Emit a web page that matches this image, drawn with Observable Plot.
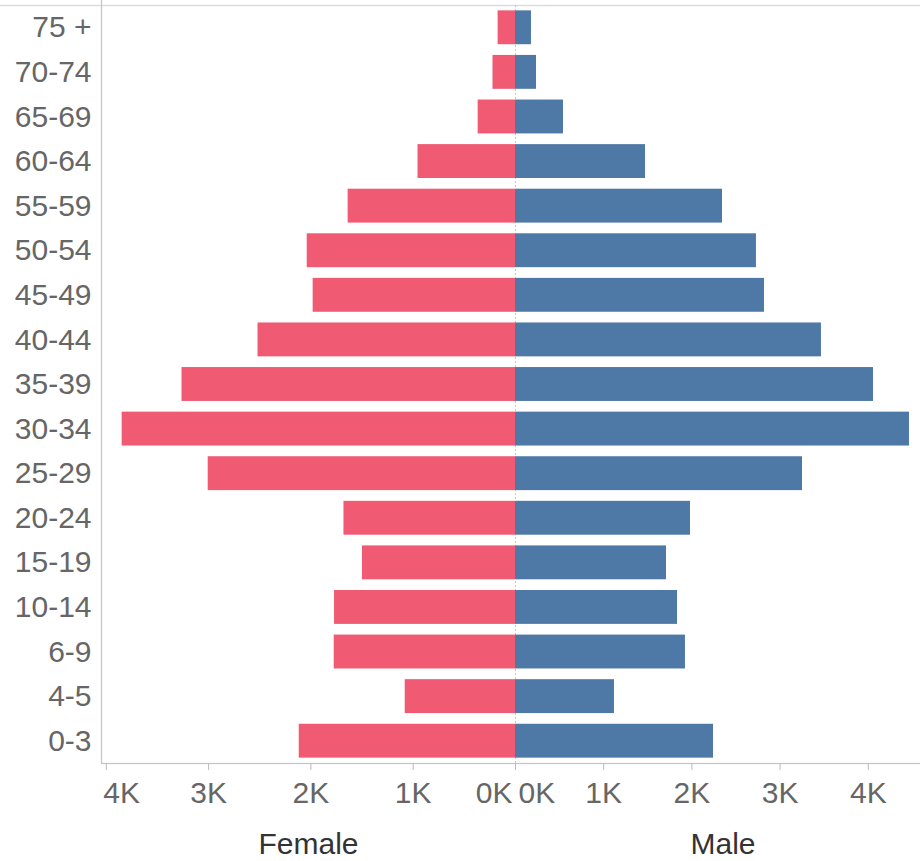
<!DOCTYPE html>
<html>
<head>
<meta charset="utf-8">
<script src="https://cdn.jsdelivr.net/npm/d3@7"></script>
<script src="https://cdn.jsdelivr.net/npm/@observablehq/plot@0.6"></script>
<style>
  body { margin: 0; background: #fff; }
  #chart { display: flex; width: 920px; height: 861px; }
  #chart svg { overflow: hidden; }
</style>
</head>
<body>
<div id="chart"></div>
<script>
const ages = ["75 +","70-74","65-69","60-64","55-59","50-54","45-49","40-44","35-39","30-34","25-29","20-24","15-19","10-14","6-9","4-5","0-3"];
const female = [170,220,365,953,1636,2036,1978,2517,3260,3845,3004,1677,1496,1769,1772,1078,2114];
const male = [181,238,544,1474,2347,2732,2823,3469,4059,4467,3254,1984,1712,1837,1927,1122,2245];
const tickValues = [0,1000,2000,3000,4000];
const titles = ["Female","Male"];

const femaleData = ages.map((a,i) => ({age: a, value: female[i]}));
const maleData = ages.map((a,i) => ({age: a, value: male[i]}));

const FONT = "'Liberation Sans', Arial, sans-serif";
const FS = 30;
const fmt = d => `${d/1000}K`;
const H = 861, MT = 5, MB = 98;
const yScale = {domain: ages, paddingInner: 0.24, paddingOuter: 0.12, round: false, label: null};
const txt = {fontSize: FS, fill: "#666", tickSize: 0, tickPadding: 18, tickFormat: fmt, label: null};
const tk = {ticks: tickValues, tickSize: 7, stroke: "#bbb", tickFormat: () => "", label: null};

const left = Plot.plot({
  width: 515, height: H,
  marginLeft: 101, marginRight: 0, marginTop: MT, marginBottom: MB,
  style: {fontFamily: FONT, background: "white"},
  x: {domain: [0, 4047], reverse: true, label: null},
  y: yScale,
  marks: [
    Plot.frame({stroke: "#dcdcdc", strokeWidth: 1.5, insetBottom: -400, insetLeft: -400, insetRight: -400}),
    Plot.frame({stroke: "#c4c4c4", strokeWidth: 1.2, insetTop: -400, insetRight: -400}),
    Plot.barX(femaleData, {x: "value", y: "age", fill: "#f05a72"}),
    Plot.axisY({tickSize: 0, tickPadding: 10, fontSize: FS, fill: "#666", label: null}),
    Plot.axisX(tk),
    Plot.axisX({...txt, ticks: [1000,2000,3000]}),
    Plot.axisX({...txt, ticks: [0], textAnchor: "end", dx: -3}),
    Plot.axisX({...txt, ticks: [4000], textAnchor: "start", dx: -3}),
    Plot.text([titles[0]], {frameAnchor: "bottom", dy: 69, lineAnchor: "top", fontSize: FS, fill: "#333"})
  ]
});

const right = Plot.plot({
  width: 405, height: H,
  marginLeft: 0, marginRight: 0, marginTop: MT, marginBottom: MB,
  style: {fontFamily: FONT, background: "white"},
  x: {domain: [0, 4592], label: null},
  y: {...yScale, axis: null},
  marks: [
    Plot.frame({stroke: "#dcdcdc", strokeWidth: 1.5, insetBottom: -400, insetLeft: -400, insetRight: -400}),
    Plot.frame({stroke: "#c4c4c4", strokeWidth: 1.2, insetTop: -400, insetLeft: -400, insetRight: -400}),
    Plot.ruleX([0], {stroke: "#c8c8c8", strokeDasharray: "2,2"}),
    Plot.barX(maleData, {x: "value", y: "age", fill: "#4e79a7"}),
    Plot.axisX(tk),
    Plot.axisX({...txt, ticks: [1000,2000,3000,4000]}),
    Plot.axisX({...txt, ticks: [0], textAnchor: "start", dx: 3}),
    Plot.text([titles[1]], {frameAnchor: "bottom", dy: 69, dx: 5, lineAnchor: "top", fontSize: FS, fill: "#333"})
  ]
});

const chart = document.getElementById("chart");
chart.appendChild(left);
chart.appendChild(right);
</script>
</body>
</html>
